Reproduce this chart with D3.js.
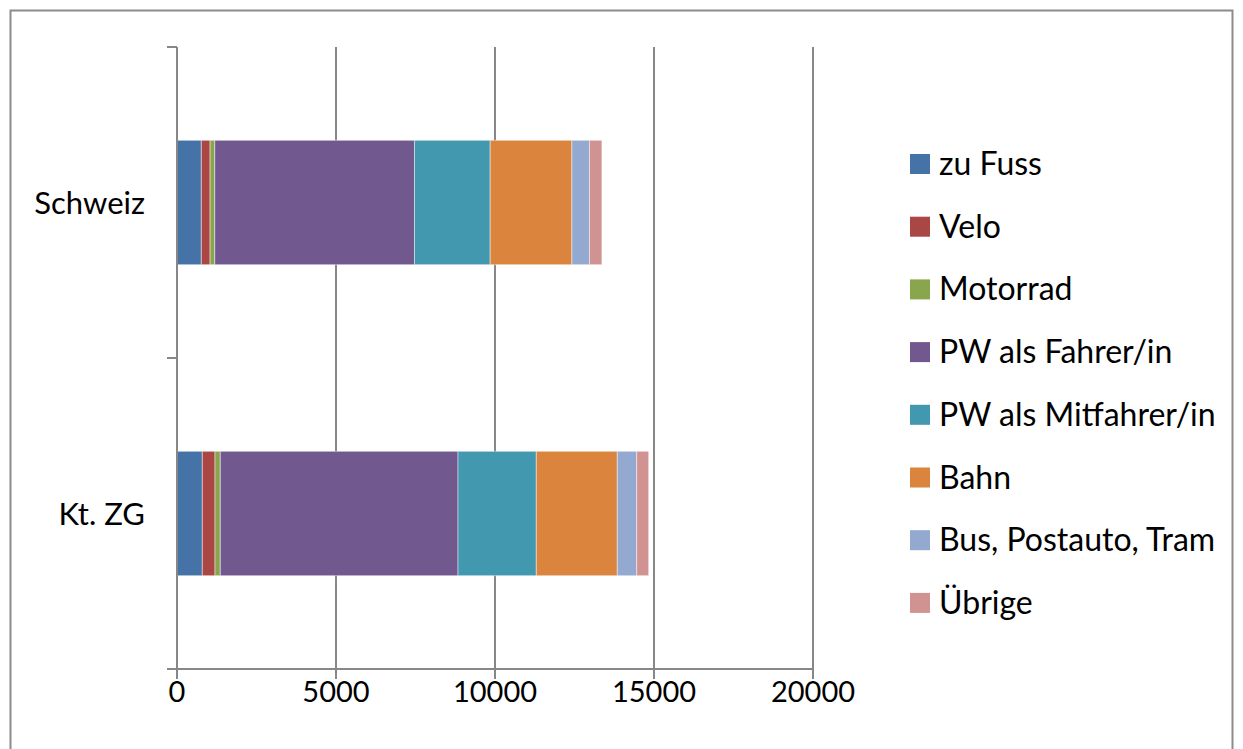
<!DOCTYPE html>
<html><head><meta charset="utf-8">
<script src="https://cdn.jsdelivr.net/npm/d3@7"></script>
<style>body{margin:0;background:#fff}svg{display:block}text{font-family:Lato,"Open Sans",sans-serif;fill:#000}</style>
</head><body><svg id="c" width="1243" height="749"></svg>
<script>
const categories = ["Schweiz", "Kt. ZG"];
const seriesNames = ["zu Fuss","Velo","Motorrad","PW als Fahrer/in","PW als Mitfahrer/in","Bahn","Bus, Postauto, Tram","Übrige"];
const schweizValues = [765, 275, 148, 6280, 2380, 2570, 553, 390];
const zgValues = [796, 399, 167, 7475, 2462, 2547, 610, 377];
const colors = ["#4572A7","#AA4643","#89A54E","#71588F","#4198AF","#DB843D","#93A9CF","#D19392"];
const xTicks = [0, 5000, 10000, 15000, 20000];

(function(){
const svg = d3.select("#c");
const pL = 177, pR = 813, pT = 47, pB = 669;
const x = d3.scaleLinear().domain([0, 20000]).range([pL, pR]);
const y = d3.scaleBand().domain(categories).range([pT, pB]).paddingInner(0.6).paddingOuter(0.3);
const yOuter = d3.scaleBand().domain(categories).range([pT, pB]);

// outer border
svg.append("path").attr("d", "M10.5,760 L10.5,10.5 L1232.5,10.5 L1232.5,760")
  .attr("fill","none").attr("stroke","#8c8c8c").attr("stroke-width",2);

// gridlines
svg.selectAll(".grid").data(xTicks.slice(1)).enter().append("line")
  .attr("x1", d => x(d)).attr("x2", d => x(d)).attr("y1", pT).attr("y2", pB)
  .attr("stroke","#878787").attr("stroke-width",2);

// bars
const rows = categories.map((c, i) => {
  const vals = i === 0 ? schweizValues : zgValues;
  let acc = 0;
  return vals.map((v, j) => { const s = acc; acc += v; return {c, j, s, e: acc}; });
}).flat();
svg.selectAll(".seg").data(rows).enter().append("rect")
  .attr("x", d => x(d.s)).attr("width", d => x(d.e) - x(d.s))
  .attr("y", d => y(d.c)).attr("height", y.bandwidth())
  .attr("fill", d => colors[d.j])
  .attr("stroke","rgba(255,255,255,0.45)").attr("stroke-width",1);

// axes lines
const axisColor = "#878787";
svg.append("line").attr("x1", pL).attr("x2", pL).attr("y1", pT).attr("y2", pB + 10)
  .attr("stroke", axisColor).attr("stroke-width", 2);
svg.append("line").attr("x1", pL - 10).attr("x2", pR).attr("y1", pB).attr("y2", pB)
  .attr("stroke", axisColor).attr("stroke-width", 2);
const yBounds = [pT].concat(categories.map(c => yOuter(c) + yOuter.bandwidth()));
svg.selectAll(".yt").data(yBounds).enter().append("line")
  .attr("x1", pL - 10).attr("x2", pL).attr("y1", d => d).attr("y2", d => d)
  .attr("stroke", axisColor).attr("stroke-width", 2);
svg.selectAll(".xt").data(xTicks).enter().append("line")
  .attr("x1", d => x(d)).attr("x2", d => x(d)).attr("y1", pB).attr("y2", pB + 10)
  .attr("stroke", axisColor).attr("stroke-width", 2);

// x labels
svg.selectAll(".xl").data(xTicks).enter().append("text")
  .attr("x", d => x(d)).attr("y", 702).attr("text-anchor","middle")
  .attr("font-size", 29).text(d => d);
// y labels
svg.selectAll(".yl").data(categories).enter().append("text")
  .attr("x", 145).attr("y", d => yOuter(d) + yOuter.bandwidth()/2 + 11)
  .attr("text-anchor","end").attr("font-size", 31).text(d => d);

// legend
const lg = svg.selectAll(".lg").data(seriesNames).enter().append("g")
  .attr("transform", (d, i) => `translate(910, ${164 + i * 62.7})`);
lg.append("rect").attr("x", 0).attr("y", -10).attr("width", 20).attr("height", 20)
  .attr("fill", (d, i) => colors[i]);
lg.append("text").attr("x", 29).attr("y", 11).attr("font-size", 32).text(d => d);
})();
</script></body></html>
